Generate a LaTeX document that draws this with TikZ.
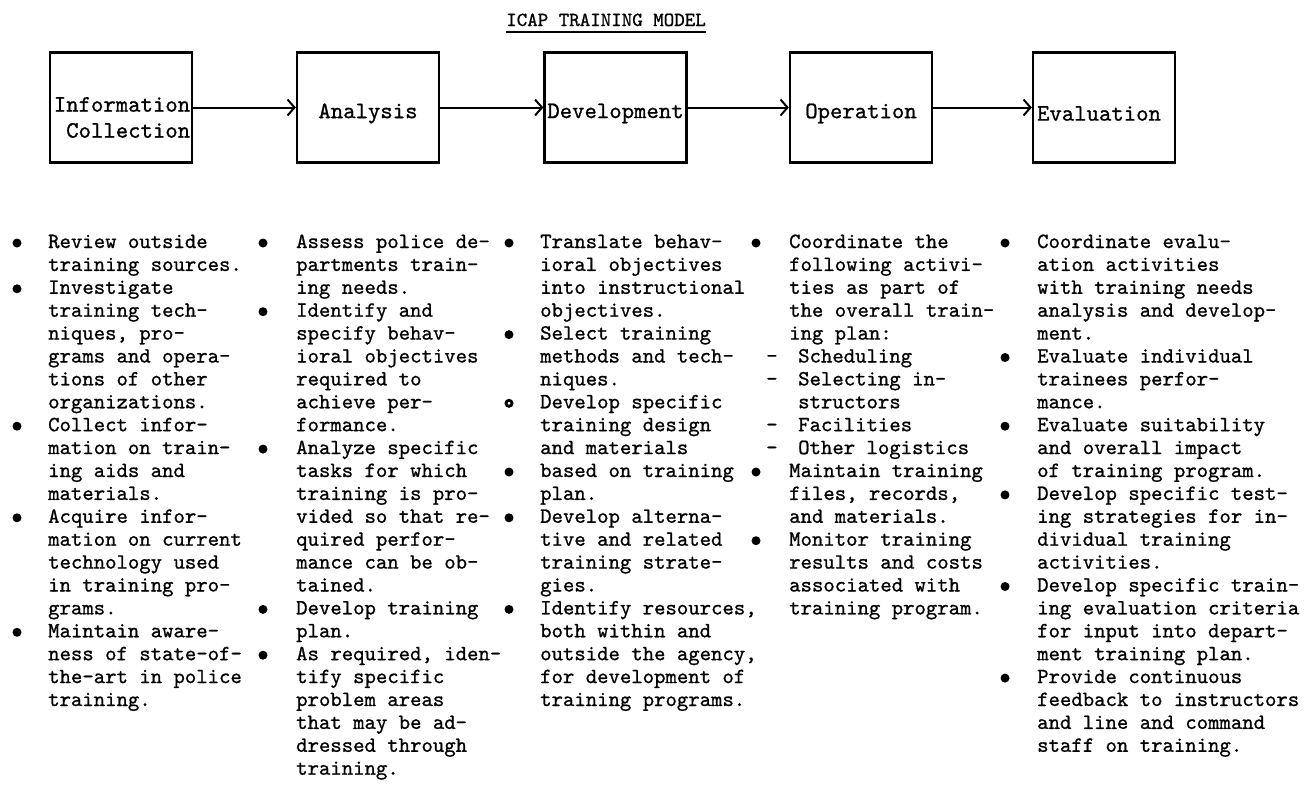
\documentclass[tikz,border=0pt]{standalone}
\usepackage{fontspec}
\usetikzlibrary{arrows.meta}
\newfontfamily\twfam{lmmono10-regular.otf}[FakeBold=0.9]
\newcommand\tw{\twfam\fontsize{21.7}{24}\selectfont}
\newcommand\twbox{\twfam\fontsize{23.6}{26}\selectfont}
\newcommand\twt{\twfam\fontsize{20}{22}\selectfont}
\begin{document}
\begin{tikzpicture}[x=1pt,y=-1pt,
  tline/.style={anchor=base west, inner sep=0pt, font=\tw},
  bul/.style={circle, fill=black, inner sep=0pt, minimum size=9pt},
  ringbul/.style={circle, draw=black, line width=2.8pt, inner sep=0pt, minimum size=6pt},
  stage/.style={draw, line width=2.3pt, minimum width=142pt, minimum height=110pt, inner sep=0pt},
  stagetext/.style={inner sep=0pt, font=\twbox},
  flow/.style={line width=2pt, -{Straight Barb[length=7pt,width=16pt,line width=2pt]}}]
\useasboundingbox (0,0) rectangle (1308,787);
\fill[white] (0,0) rectangle (1308,787);
% title
\node[inner sep=0pt, anchor=base, font=\twt] (title) at (606,26) {ICAP TRAINING MODEL};
\draw[line width=1.4pt] ([yshift=-6pt]title.base west) -- ([yshift=-6pt]title.base east);
% stage boxes
\node[stage] (b1) at (121,107.5) {};
\node[stage] (b2) at (368,107.5) {};
\node[stage] (b3) at (615.5,107.5) {};
\node[stage] (b4) at (861,107.5) {};
\node[stage] (b5) at (1104,107.5) {};
\node[stagetext, align=right] (t1) at ([yshift=-10pt,xshift=1pt]b1.center) {Information\\Collection};
\node[stagetext] (t2) at ([yshift=-6pt]b2.center) {Analysis};
\node[stagetext] (t3) at ([yshift=-6pt]b3.center) {Development};
\node[stagetext] (t4) at ([yshift=-6pt]b4.center) {Operation};
\node[stagetext] (t5) at ([yshift=-6pt,xshift=-5pt]b5.center) {Evaluation};
\draw[flow] (b1) -- (b2);
\draw[flow] (b2) -- (b3);
\draw[flow] (b3) -- (b4);
\draw[flow] (b4) -- (b5);
% column 1
\foreach \t [count=\i] in {Review outside, training sources., Investigate, training tech-, {niques, pro-}, grams and opera-, tions of other, organizations., Collect infor-, mation on train-, ing aids and, materials., Acquire infor-, mation on current, technology used, in training pro-, grams., Maintain aware-, ness of state-of-, the-art in police, training.}
  \node[tline] (a\i) at (48,{248+(\i-1)*22.9}) {\t};
\foreach \r in {1,3,9,13,18}
  \node[bul] (pa\r) at (17,{243+(\r-1)*22.9}) {};
% column 2
\foreach \t [count=\i] in {Assess police de-, partments train-, ing needs., Identify and, specify behav-, ioral objectives, required to, achieve per-, formance., Analyze specific, tasks for which, training is pro-, vided so that re-, quired perfor-, mance can be ob-, tained., Develop training, plan., {As required, iden-}, tify specific, problem areas, that may be ad-, dressed through, training.}
  \node[tline] (c\i) at (296,{248+(\i-1)*22.9}) {\t};
\foreach \r in {1,4,10,17,19}
  \node[bul] (pc\r) at (263,{243+(\r-1)*22.9}) {};
% column 3
\foreach \t [count=\i] in {Translate behav-, ioral objectives, into instructional, objectives., Select training, methods and tech-, niques., Develop specific, training design, and materials, based on training, plan., Develop alterna-, tive and related, training strate-, gies., {Identify resources,}, both within and, {outside the agency,}, for development of, training programs.}
  \node[tline] (d\i) at (540,{248+(\i-1)*22.9}) {\t};
\foreach \r in {1,5,11,13,17}
  \node[bul] (pd\r) at (509,{243+(\r-1)*22.9}) {};
\node[ringbul] (pd8) at (509,{243+7*22.9}) {};
% column 4
\foreach \r/\t in {1/Coordinate the, 2/following activi-, 3/ties as part of, 4/the overall train-, 5/ing plan:, 11/Maintain training, 12/{files, records,}, 13/and materials., 14/Monitor training, 15/results and costs, 16/associated with, 17/training program.}
  \node[tline] (e\r) at (789,{248+(\r-1)*22.9}) {\t};
\foreach \r/\t in {6/Scheduling, 7/Selecting in-, 8/structors, 9/Facilities, 10/Other logistics}
  \node[tline] (e\r) at (798,{248+(\r-1)*22.9}) {\t};
\foreach \r in {6,7,9,10}
  \node[tline] (h\r) at (766,{248+(\r-1)*22.9}) {-};
\foreach \r in {1,11,14}
  \node[bul] (pe\r) at (756,{243+(\r-1)*22.9}) {};
% column 5
\foreach \t [count=\i] in {Coordinate evalu-, ation activities, with training needs, analysis and develop-, ment., Evaluate individual, trainees perfor-, mance., Evaluate suitability, and overall impact, of training program., Develop specific test-, ing strategies for in-, dividual training, activities., Develop specific train-, ing evaluation criteria, for input into depart-, ment training plan., Provide continuous, feedback to instructors, and line and command, staff on training.}
  \node[tline] (f\i) at (1037,{248+(\i-1)*22.9}) {\t};
\foreach \r in {1,6,9,12,16,20}
  \node[bul] (pf\r) at (1005,{243+(\r-1)*22.9}) {};
\end{tikzpicture}
\end{document}
